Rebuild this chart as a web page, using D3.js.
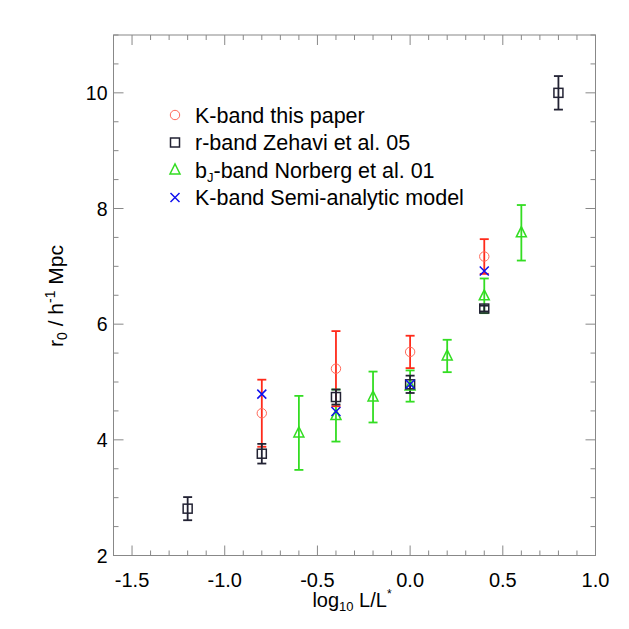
<!DOCTYPE html>
<html><head><meta charset="utf-8">
<script src="https://cdn.jsdelivr.net/npm/d3@7"></script>
<style>body{margin:0;background:#fff}svg{display:block}text{font-family:"Liberation Sans",Arial,sans-serif;fill:#000}</style>
</head><body><svg id="c" width="629" height="629"></svg>
<script>
// Data
const kbandX = [-0.8, -0.4, 0.0, 0.4];
const kbandY = [4.46, 5.23, 5.52, 7.17];
const kbandErr = [0.58, 0.65, 0.28, 0.30];

const zehaviX = [-1.2, -0.8, -0.4, 0.0, 0.4, 0.8];
const zehaviY = [2.81, 3.76, 4.74, 4.96, 6.27, 10.0];
const zehaviErr = [0.20, 0.17, 0.13, 0.15, 0.05, 0.29];

const norbergX = [-0.6, -0.4, -0.2, 0.0, 0.2, 0.4, 0.6];
const norbergY = [4.12, 4.42, 4.74, 4.93, 5.45, 6.49, 7.58];
const norbergErr = [0.64, 0.45, 0.44, 0.27, 0.28, 0.30, 0.48];

const samX = [-0.8, -0.4, 0.0, 0.4];
const samY = [4.79, 4.49, 4.96, 6.92];

const xTickLabels = ["-1.5", "-1.0", "-0.5", "0.0", "0.5", "1.0"];
const yTickLabels = ["2", "4", "6", "8", "10"];
const legendLabels = ["K-band this paper", "r-band Zehavi et al. 05", "b_J-band Norberg et al. 01", "K-band Semi-analytic model"];

const svg = d3.select("#c");
const L = 113.5, R = 595.5, T = 35, B = 555.5;
const x = d3.scaleLinear().domain([-1.6, 1.0]).range([L, R]);
const y = d3.scaleLinear().domain([2, 11]).range([B, T]);
const axisCol = "#888";

// frame
svg.append("rect").attr("x", L).attr("y", T).attr("width", R - L).attr("height", B - T)
  .attr("fill", "none").attr("stroke", axisCol).attr("stroke-width", 1);

const xMajor = d3.range(-1.5, 1.01, 0.5);
const xMinor = d3.range(-1.6, 1.001, 0.1).filter(v => !xMajor.some(m => Math.abs(m - v) < 1e-6));
const yMajor = d3.range(2, 11.01, 2);
const yMinor = d3.range(2, 11.01, 0.5).filter(v => !yMajor.some(m => Math.abs(m - v) < 1e-6));

function ticks(g, vals, len) {
  vals.forEach(v => {
    const px = x(v);
    g.append("line").attr("x1", px).attr("x2", px).attr("y1", B).attr("y2", B - len);
    g.append("line").attr("x1", px).attr("x2", px).attr("y1", T).attr("y2", T + len);
  });
}
function yticks(g, vals, len) {
  vals.forEach(v => {
    const py = y(v);
    g.append("line").attr("y1", py).attr("y2", py).attr("x1", L).attr("x2", L + len);
    g.append("line").attr("y1", py).attr("y2", py).attr("x1", R).attr("x2", R - len);
  });
}
const tg = svg.append("g").attr("stroke", axisCol).attr("stroke-width", 1);
ticks(tg, xMajor, 10); ticks(tg, xMinor, 5);
yticks(tg, yMajor, 10); yticks(tg, yMinor, 5);

// tick labels
xMajor.forEach((v, i) => svg.append("text").attr("x", x(v)).attr("y", B + 31.5)
  .attr("text-anchor", "middle").attr("font-size", 20).text(xTickLabels[i]));
yMajor.forEach((v, i) => svg.append("text").attr("x", L - 6).attr("y", y(v) + 7)
  .attr("text-anchor", "end").attr("font-size", 19.5).text(yTickLabels[i]));

// axis titles
const xt = svg.append("text").attr("x", 352).attr("y", 607).attr("text-anchor", "middle").attr("font-size", 20);
xt.append("tspan").text("log");
xt.append("tspan").attr("font-size", 13).attr("dy", 4).text("10");
xt.append("tspan").attr("dy", -4).text(" L/L");
xt.append("tspan").attr("font-size", 12).attr("dy", -9).text("*");
const yt = svg.append("text").attr("transform", "translate(63,296) rotate(-90)").attr("text-anchor", "middle").attr("font-size", 21);
yt.append("tspan").text("r");
yt.append("tspan").attr("font-size", 14).attr("dy", 4).text("0");
yt.append("tspan").attr("dy", -4).text(" / h");
yt.append("tspan").attr("font-size", 14).attr("dy", -8).text("-1");
yt.append("tspan").attr("dy", 8).text("  Mpc");

// markers
function circle(g, cx, cy, col) { g.append("circle").attr("cx", cx).attr("cy", cy).attr("r", 4.7).attr("fill", "none").attr("stroke", col).attr("stroke-width", 1); }
function square(g, cx, cy, col) { g.append("rect").attr("x", cx - 4.5).attr("y", cy - 4.5).attr("width", 9).attr("height", 9).attr("fill", "none").attr("stroke", col).attr("stroke-width", 1.5); }
function tri(g, cx, cy, col) { g.append("path").attr("d", `M${cx - 5},${cy + 4}L${cx + 5},${cy + 4}L${cx},${cy - 6}Z`).attr("fill", "none").attr("stroke", col).attr("stroke-width", 1.5); }
function cross(g, cx, cy, col) { g.append("path").attr("d", `M${cx - 4.5},${cy - 4.5}L${cx + 4.5},${cy + 4.5}M${cx - 4.5},${cy + 4.5}L${cx + 4.5},${cy - 4.5}`).attr("stroke", col).attr("stroke-width", 1.5); }
function errbar(g, xv, yv, e, col) {
  const px = x(xv);
  g.append("line").attr("x1", px).attr("x2", px).attr("y1", y(yv - e)).attr("y2", y(yv + e)).attr("stroke", col).attr("stroke-width", 1.8);
  [yv - e, yv + e].forEach(v => g.append("line").attr("x1", px - 4.5).attr("x2", px + 4.5).attr("y1", y(v)).attr("y2", y(v)).attr("stroke", col).attr("stroke-width", 1.8));
}

const red = "#ff2a1a", redM = "#ff6a5a", green = "#33dd22", black = "#222233", blue = "#1010ee";
const g = svg.append("g");
norbergX.forEach((v, i) => errbar(g, v, norbergY[i], norbergErr[i], green));
kbandX.forEach((v, i) => errbar(g, v, kbandY[i], kbandErr[i], red));
zehaviX.forEach((v, i) => errbar(g, v, zehaviY[i], zehaviErr[i], black));
norbergX.forEach((v, i) => tri(g, x(v), y(norbergY[i]), green));
kbandX.forEach((v, i) => circle(g, x(v), y(kbandY[i]), redM));
zehaviX.forEach((v, i) => square(g, x(v), y(zehaviY[i]), black));
samX.forEach((v, i) => cross(g, x(v), y(samY[i]), blue));

// legend
const lx = 175, ly0 = 115, dy = 27.5;
const lg = svg.append("g");
circle(lg, lx, ly0, redM);
square(lg, lx, ly0 + dy, black);
tri(lg, lx, ly0 + 2 * dy, green);
cross(lg, lx, ly0 + 3 * dy, blue);
legendLabels.forEach((t, i) => {
  const tx = lg.append("text").attr("x", 195).attr("y", ly0 + i * dy + 7.5).attr("font-size", 21.5);
  if (t.startsWith("b_J")) {
    tx.append("tspan").text("b");
    tx.append("tspan").attr("font-size", 13).attr("dy", 4).text("J");
    tx.append("tspan").attr("dy", -4).text(t.slice(3));
  } else tx.text(t);
});
</script></body></html>
